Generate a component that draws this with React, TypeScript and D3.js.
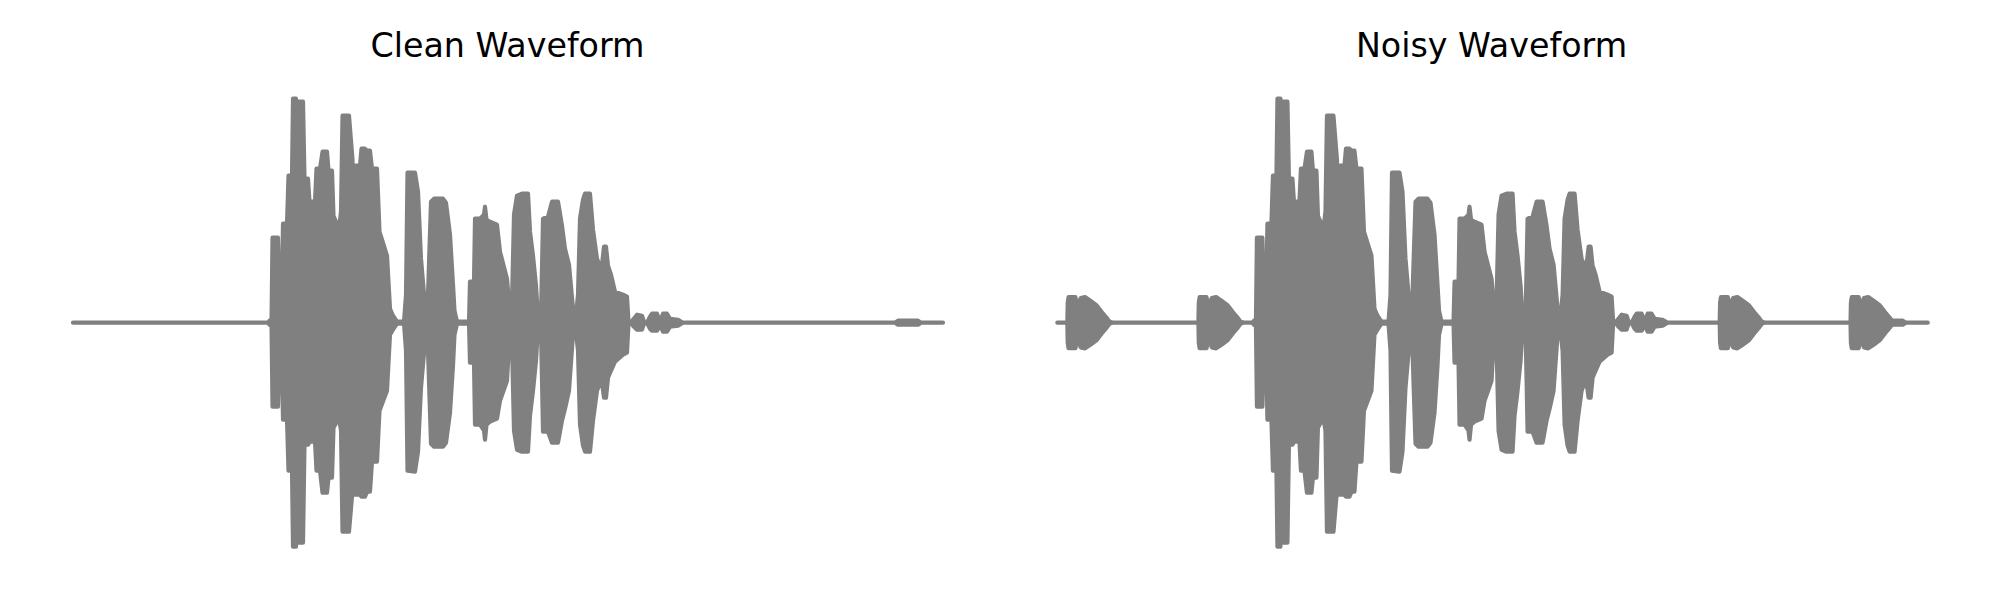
import React from 'react';
import * as d3 from 'd3';

// Envelope of the clean speech waveform (time in ms, amplitude in sample units)
const cleanTimeMs = [
  0, 780, 786, 794, 798, 820, 824, 836, 840, 856,
  862, 876, 880, 892, 896, 899, 902, 920, 926, 940,
  946, 968, 974, 988, 998, 1016, 1022, 1036, 1042, 1064,
  1072, 1078, 1104, 1118, 1122, 1126, 1128, 1148, 1154, 1168,
  1176, 1188, 1196, 1216, 1226, 1256, 1268, 1280, 1296, 1324,
  1332, 1338, 1368, 1380, 1392, 1408, 1420, 1432, 1444, 1480,
  1492, 1508, 1520, 1526, 1536, 1584, 1588, 1604, 1608, 1628,
  1644, 1648, 1654, 1668, 1696, 1708, 1736, 1744, 1756, 1764,
  1776, 1796, 1820, 1828, 1840, 1852, 1860, 1872, 1880, 1900,
  1916, 1940, 1956, 1968, 1984, 2000, 2012, 2020, 2028, 2040,
  2048, 2068, 2080, 2096, 2108, 2116, 2124, 2132, 2140, 2152,
  2168, 2200, 2216, 2222, 2232, 2240, 2256, 2276, 2284, 2296,
  2308, 2316, 2336, 2348, 2360, 2376, 2388, 2420, 2440, 3288,
  3300, 3380, 3392, 3480,
];
const cleanUpper = [
  0, 0, 200, 0, 8500, 8500, 4100, 4100, 9900, 9900,
  14700, 14700, 22400, 22400, 14800, 14800, 22100, 22100, 14400, 14400,
  12100, 12100, 15400, 15400, 17100, 17100, 15200, 15200, 10700, 9400,
  11100, 20700, 20700, 16300, 600, 600, 15700, 15700, 17400, 17400,
  17200, 17200, 15400, 15400, 9100, 6700, 1400, 700, 100, 100,
  2800, 15000, 15000, 13100, 6400, 1700, 2800, 12100, 12400, 12400,
  12000, 8800, 3800, 1200, 100, 100, 4100, 4100, 10400, 10400,
  10800, 11600, 10300, 10100, 9800, 7100, 4400, 2100, 2100, 10800,
  12700, 12900, 12900, 9100, 6700, 3700, 600, 600, 10400, 10600,
  12100, 12100, 9700, 7400, 5800, 1400, 700, 2800, 10400, 12300,
  12900, 12900, 9300, 6400, 5700, 5800, 7600, 7600, 5700, 4800,
  3100, 2800, 2600, 100, 0, 300, 800, 700, 100, 0,
  600, 900, 900, 100, 900, 900, 400, 300, 0, 0,
  200, 200, 0, 0,
];
const cleanLower = [
  0, 0, -200, 0, -8400, -8400, -4200, -4200, -9700, -9700,
  -14800, -14800, -22400, -22400, -14800, -14800, -22000, -22000, -12200, -12200,
  -11900, -11900, -14800, -14800, -17000, -17000, -15500, -15500, -10500, -9500,
  -10800, -20900, -20900, -16800, -600, -600, -17200, -17200, -17400, -17400,
  -16900, -16900, -13900, -13900, -8800, -6800, -1200, -700, -100, -100,
  -2800, -14800, -14900, -12900, -6500, -1900, -2800, -12100, -12400, -12400,
  -12000, -9000, -4300, -1200, -100, -100, -4000, -4000, -10200, -10200,
  -10800, -11700, -10200, -9900, -9600, -7800, -5800, -2200, -2200, -10800,
  -12700, -12900, -12900, -9300, -6800, -3800, -600, -600, -10900, -10900,
  -12000, -12000, -9800, -8600, -6800, -1200, -900, -2800, -10200, -12300,
  -12900, -12900, -9800, -6800, -6000, -6000, -7500, -7500, -5500, -4800,
  -3900, -3200, -3000, -100, 0, -300, -700, -700, -100, 0,
  -600, -800, -800, -200, -900, -900, -400, -300, 0, 0,
  -200, -200, 0, 0,
];

// Envelope of one added noise burst (time relative to burst onset, ms)
const burstTimeMs = [0, 1.6, 4.8, 32.8, 36, 37.6, 48, 49.6, 53.6, 70.8, 90.8, 117.6, 137.6, 154.8, 168, 177.6];
const burstAmp = [0, 2000, 2550, 2550, 2000, 0, 0, 2200, 2470, 2570, 2230, 1730, 1070, 570, 130, 0];
// Onsets of the noise bursts in the noisy waveform (ms)
const noiseBurstStartMs = [40, 564, 2648, 3171];

const panelTitles = ['Clean Waveform', 'Noisy Waveform'];
const durationMs = 3480;

const COLOR = '#808080';

type Pt = { t: number; hi: number; lo: number };

export default function App() {
  const W = 2000;
  const H = 600;
  const maxAbs = d3.max([...cleanUpper, ...cleanLower.map((v) => Math.abs(v))]) as number;
  const y = d3.scaleLinear().domain([-maxAbs, maxAbs]).range([322.7 + 224, 322.7 - 224]);

  const panels = [
    { title: panelTitles[0], x0: 73, x1: 943, noisy: false, tx: 507.5 },
    { title: panelTitles[1], x0: 1057.3, x1: 1927.8, noisy: true, tx: 1491.5 },
  ];

  const cleanPts: Pt[] = cleanTimeMs.map((t, i) => ({ t, hi: cleanUpper[i], lo: cleanLower[i] }));

  return (
    <svg
      width={W}
      height={H}
      viewBox={`0 0 ${W} ${H}`}
      style={{ position: 'absolute', left: 0, top: 0, background: '#fff' }}
    >
      <rect x={0} y={0} width={W} height={H} fill="#fff" />
      {panels.map((p) => {
        const x = d3.scaleLinear().domain([0, durationMs]).range([p.x0, p.x1]);
        const area = d3
          .area<Pt>()
          .x((d) => x(d.t))
          .y0((d) => y(d.lo))
          .y1((d) => y(d.hi));
        const bursts = p.noisy
          ? noiseBurstStartMs.map((s) =>
              burstTimeMs.map((r, i) => ({ t: s + r, hi: burstAmp[i], lo: -burstAmp[i] }))
            )
          : [];
        return (
          <g key={p.title}>
            <path
              d={area(cleanPts) || ''}
              fill={COLOR}
              stroke={COLOR}
              strokeWidth={4.17}
              strokeLinejoin="round"
            />
            {bursts.map((b, i) => (
              <path
                key={i}
                d={area(b) || ''}
                fill={COLOR}
                stroke={COLOR}
                strokeWidth={4.17}
                strokeLinejoin="round"
              />
            ))}
            <text
              x={p.tx}
              y={57}
              textAnchor="middle"
              fontFamily="'DejaVu Sans', sans-serif"
              fontSize={33.3}
              fill="#000"
            >
              {p.title}
            </text>
          </g>
        );
      })}
    </svg>
  );
}
